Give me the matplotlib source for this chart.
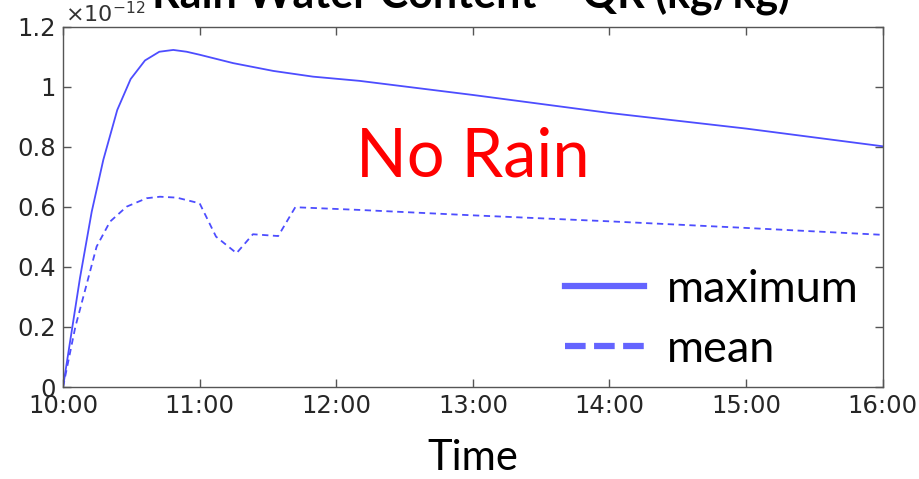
import matplotlib.pyplot as plt
from matplotlib.lines import Line2D
import numpy as np

# time in hours after 10:00, values in units of 1e-12 kg/kg
t_max = [0, 0.124, 0.21, 0.295, 0.397, 0.495, 0.6, 0.705, 0.807, 0.905, 1.0,
         1.246, 1.54, 1.83, 2.0, 2.17, 3.0, 4.0, 5.0, 6.0]
v_max = [0, 0.363, 0.584, 0.757, 0.923, 1.026, 1.088, 1.117, 1.123, 1.117, 1.107,
         1.079, 1.053, 1.034, 1.027, 1.02, 0.973, 0.913, 0.861, 0.802]

t_mean = [0, 0.09, 0.185, 0.246, 0.344, 0.466, 0.612, 0.71, 0.832, 1.0, 1.12,
          1.27, 1.39, 1.575, 1.70, 2.17, 3.0, 4.0, 5.0, 6.0]
v_mean = [0, 0.2, 0.363, 0.468, 0.551, 0.601, 0.629, 0.634, 0.631, 0.612, 0.501,
          0.446, 0.509, 0.503, 0.599, 0.59, 0.572, 0.552, 0.53, 0.507]

xticks = [0, 1, 2, 3, 4, 5, 6]
xlabels = ['10:00', '11:00', '12:00', '13:00', '14:00', '15:00', '16:00']
yticks = [0, 0.2, 0.4, 0.6, 0.8, 1.0, 1.2]
ylabels = ['0', '0.2', '0.4', '0.6', '0.8', '1', '1.2']

line_color = '#4d4dff'
legend_color = '#6464ff'

fig = plt.figure(figsize=(9.2, 4.79), dpi=100)
ax = fig.add_axes([0.0685, 0.192, 0.891, 0.752])

ax.plot(t_max, v_max, color=line_color, lw=1.3)
ax.plot(t_mean, v_mean, color=line_color, lw=1.3, ls=(0, (3.5, 2.5)))

ax.set_xlim(0, 6)
ax.set_ylim(0, 1.2)
ax.set_xticks(xticks)
ax.set_xticklabels(xlabels)
ax.set_yticks(yticks)
ax.set_yticklabels(ylabels)
ax.tick_params(direction='in', top=True, right=True, length=6, width=1,
               color='#555555', labelsize=17.5, labelcolor='#262626', pad=5)
for s in ax.spines.values():
    s.set_color('#555555')
    s.set_linewidth(1)

ax.text(0.002, 1.013, r'$\times10^{-12}$', transform=ax.transAxes,
        fontsize=16, color='#333333', ha='left', va='baseline')

fig.text(0.512, 0.983, 'Rain Water Content \u2013 QR (kg/kg)', ha='center',
         va='baseline', fontsize=31, fontweight='bold', family='Lato')

ax.text(3.0, 0.763, 'No Rain', color='red', fontsize=48, family='Lato',
        ha='center', va='center')

handles = [Line2D([], [], color=legend_color, lw=4.5),
           Line2D([], [], color=legend_color, lw=4.5, ls=(0, (3.3, 1.35)))]
ax.legend(handles, ['maximum', 'mean'], loc='lower right', frameon=False,
          prop={'family': 'Lato', 'size': 32.5}, handlelength=1.75,
          handletextpad=0.5, labelspacing=0.42, bbox_to_anchor=(1.02, -0.065))

ax.set_xlabel('Time', fontsize=30, family='Lato', labelpad=15)

fig.savefig('out.png', dpi=100)
